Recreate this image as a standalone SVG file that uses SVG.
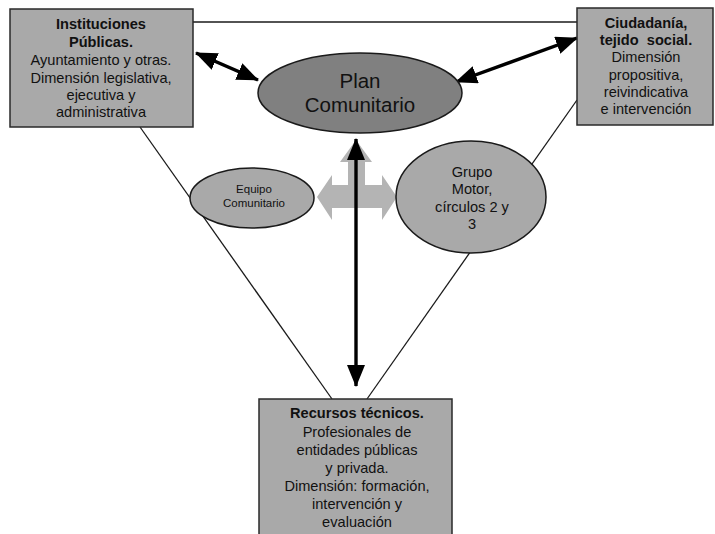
<svg xmlns="http://www.w3.org/2000/svg" width="715" height="534" viewBox="0 0 715 534">
<style>
.box{fill:#a9a9a9;stroke:#2a2a2a;stroke-width:1.5}
.ell{fill:#a9a9a9;stroke:#1a1a1a;stroke-width:1.5}
.t{font-family:"Liberation Sans",Arial,sans-serif;font-size:14.6px;fill:#111;text-anchor:middle}
.b{font-weight:bold}
.thin{stroke:#1a1a1a;stroke-width:1.3;fill:none}
.arr{stroke:#000;stroke-width:3.4;fill:none;marker-start:url(#ah);marker-end:url(#ah)}
</style>
<defs>
<marker id="ah" markerUnits="userSpaceOnUse" markerWidth="24" markerHeight="20" refX="21" refY="9" orient="auto-start-reverse">
<path d="M0,0 L22,9 L0,18 z" fill="#000"/>
</marker>
</defs>
<rect width="715" height="534" fill="#fff"/>
<g id="connectors">
<line class="thin" x1="193" y1="22" x2="577" y2="22"/>
<line class="thin" x1="140" y1="127" x2="332" y2="399"/>
<line class="thin" x1="577" y1="100" x2="367" y2="399"/>
<polygon points="356,140 372,162 365,162 365,185 382,185 382,175 397,197 382,220 382,208 332,208 332,220 317,197 332,175 332,185 348,185 348,162 340,162" fill="#b4b4b4"/>
<line class="arr" x1="356" y1="139" x2="356" y2="386"/>
<line class="arr" x1="196" y1="53" x2="258" y2="80"/>
<line class="arr" x1="456" y1="82" x2="577" y2="38"/>
</g>
<g id="instituciones">
<rect class="box" x="10" y="9" width="183" height="118"/>
<text class="t b" x="101" y="29">Instituciones</text>
<text class="t b" x="101" y="47">Públicas.</text>
<text class="t" x="101" y="65">Ayuntamiento y otras.</text>
<text class="t" x="101" y="83">Dimensión legislativa,</text>
<text class="t" x="101" y="100">ejecutiva y</text>
<text class="t" x="101" y="117">administrativa</text>
</g>
<g id="ciudadania">
<rect class="box" x="577" y="8" width="136" height="117"/>
<text class="t b" x="646" y="28">Ciudadanía,</text>
<text class="t b" x="646" y="45" xml:space="preserve">tejido  social.</text>
<text class="t" x="646" y="62">Dimensión</text>
<text class="t" x="646" y="80">propositiva,</text>
<text class="t" x="646" y="97">reivindicativa</text>
<text class="t" x="646" y="114">e intervención</text>
</g>
<g id="recursos">
<rect class="box" x="259" y="399" width="193" height="140"/>
<text class="t b" x="357" y="418">Recursos técnicos.</text>
<text class="t" x="357" y="437">Profesionales de</text>
<text class="t" x="357" y="455">entidades públicas</text>
<text class="t" x="357" y="473">y privada.</text>
<text class="t" x="357" y="491">Dimensión: formación,</text>
<text class="t" x="357" y="509">intervención y</text>
<text class="t" x="357" y="527">evaluación</text>
</g>
<g id="plan">
<ellipse cx="360" cy="93" rx="102" ry="40" fill="#808080" stroke="#1a1a1a" stroke-width="1.5"/>
<text class="t" x="360" y="88" style="font-size:20.5px">Plan</text>
<text class="t" x="360" y="112" style="font-size:20.5px">Comunitario</text>
</g>
<g id="equipo">
<ellipse class="ell" cx="252" cy="198" rx="62" ry="30"/>
<text class="t" x="254" y="193" style="font-size:11.5px">Equipo</text>
<text class="t" x="254" y="207" style="font-size:11.5px">Comunitario</text>
</g>
<g id="grupo">
<ellipse class="ell" cx="471" cy="197" rx="75" ry="56"/>
<text class="t" x="472" y="177">Grupo</text>
<text class="t" x="472" y="194">Motor,</text>
<text class="t" x="472" y="212">círculos 2 y</text>
<text class="t" x="472" y="229">3</text>
</g>
</svg>
